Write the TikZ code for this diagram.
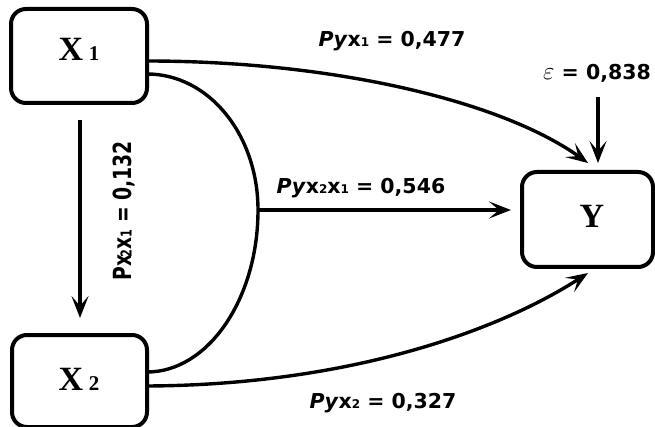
\documentclass[tikz,border=0pt]{standalone}
\usepackage{fontspec}
\setmainfont{Liberation Serif}
\newfontfamily\labf{DejaVu Sans}
\usetikzlibrary{arrows.meta}
\tikzset{
  box/.style={draw, line width=4pt, rounded corners=15pt},
  conn/.style={line width=3.4pt},
  arr/.style={conn, -{Stealth[length=22pt,width=17pt,inset=10pt]}},
  lab/.style={font=\labf\bfseries\fontsize{20.5}{20.5}\selectfont, inner sep=0pt},
}
\newcommand{\sbd}[1]{{\fontsize{12}{12}\selectfont #1}}
\begin{document}
\begin{tikzpicture}[x=1pt,y=-1pt]
\useasboundingbox (0,0) rectangle (655,427);
% boxes
\draw[box] (11,9) rectangle (147,103);
\node[inner sep=0pt] (x1t) at (79,49) {\fontsize{34}{34}\selectfont\bfseries X\,{\fontsize{21}{21}\selectfont 1}};
\draw[box] (12,335) rectangle (147,427);
\node[inner sep=0pt] (x2t) at (79,379) {\fontsize{34}{34}\selectfont\bfseries X\,{\fontsize{21}{21}\selectfont 2}};
\draw[box] (522,172) rectangle (653,267);
\node[inner sep=0pt] (yt) at (592,216) {\fontsize{34}{34}\selectfont\bfseries Y};
% coordinates
\coordinate (a1) at (147,61);
\coordinate (a2) at (147,74);
\coordinate (m) at (258,210);
\coordinate (b2) at (147,372);
\coordinate (b1) at (147,386);
\coordinate (ytop) at (588,163);
\coordinate (yl) at (511,210);
\coordinate (ybot) at (588,273);
\coordinate (e1) at (598,97);
\coordinate (e2) at (598,163);
\coordinate (v1) at (80,120);
\coordinate (v2) at (80,318);
% connectors
\draw[arr] (a1) .. controls (330,61) and (500,100) .. (ytop);
\draw[conn] (a2) .. controls (209,74) and (258,135) .. (m) .. controls (258,299) and (208,372) .. (b2);
\draw[arr] (m) -- (yl);
\draw[arr] (b1) .. controls (350,385) and (500,330) .. (ybot);
\draw[arr] (e1) -- (e2);
\draw[arr] (v1) -- (v2);
% labels
\node[lab] (l1) at (392,41) {\textit{Py}x\sbd{1} = 0,477};
\node[lab] (l2) at (361,188) {\textit{Py}x\sbd{2}x\sbd{1} = 0,546};
\node[lab] (l3) at (383,403) {\textit{Py}x\sbd{2} = 0,327};
\node[lab, anchor=west] (l4) at (543,73) {{\fontsize{26}{26}\selectfont$\varepsilon$} = 0,838};
\node[lab, rotate=90] (l5) at (124,211) {\scalebox{0.75}[1]{\fontsize{25}{25}\selectfont Px\kern-3pt\sbd{\fontsize{15}{15}\selectfont 2}x\sbd{\fontsize{15}{15}\selectfont 1} = 0,132}};
\end{tikzpicture}
\end{document}
